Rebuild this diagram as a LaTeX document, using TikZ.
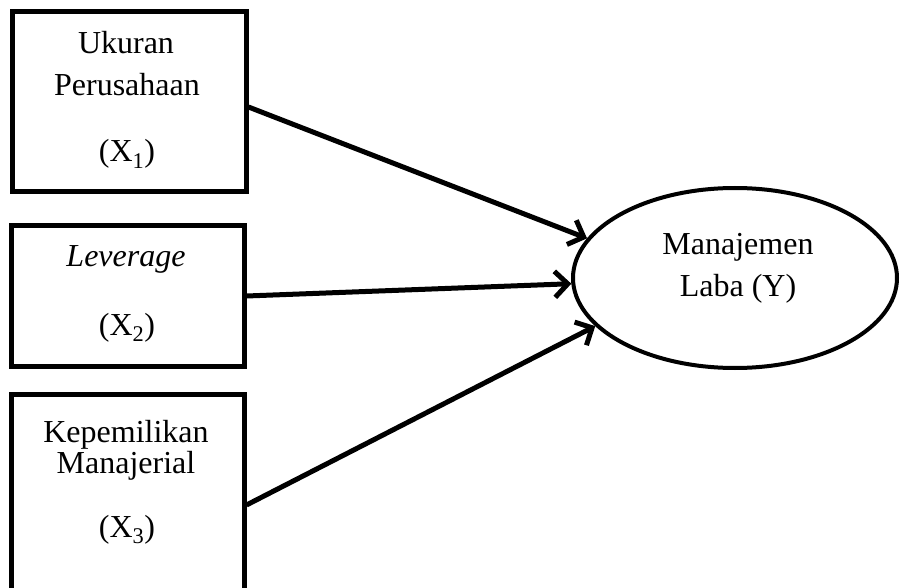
\documentclass[tikz,border=0pt]{standalone}
\usepackage{fontspec}
\setmainfont{Liberation Serif}
\usetikzlibrary{arrows.meta,shapes.geometric}
\begin{document}
\begin{tikzpicture}[x=1pt,y=-1pt,
  every node/.style={font=\fontsize{32}{38}\selectfont},
  boxnode/.style={draw,line width=5pt,inner sep=0pt,minimum width=#1},
  txt/.style={anchor=base,inner sep=0pt},
  conn/.style={line width=5pt,-{Straight Barb[length=13pt,width=26pt]}}]
\useasboundingbox (0,0) rectangle (900,588);
\clip (0,0) rectangle (900,588);
\node[boxnode=234pt,minimum height=180pt] (b1) at (129,102) {};
\node[boxnode=233pt,minimum height=140pt] (b2) at (127.5,296) {};
\node[boxnode=233pt,minimum height=240pt] (b3) at (127.5,514) {};
\node[draw,ellipse,line width=4pt,inner sep=0pt,minimum width=324pt,minimum height=180pt] (ell) at (735,278) {};
% texts
\node[txt] (t1a) at (126,54) {Ukuran};
\node[txt] (t1b) at (127,96) {Perusahaan};
\node[txt] (t1c) at (127,162) {(X\textsubscript{1})};
\node[txt] (t2a) at (126,267) {\textit{Leverage}};
\node[txt] (t2b) at (127,335) {(X\textsubscript{2})};
\node[txt] (t3a) at (126,442) {Kepemilikan};
\node[txt] (t3b) at (126,473) {Manajerial};
\node[txt] (t3c) at (127,537) {(X\textsubscript{3})};
\node[txt] (ya) at (738,255) {Manajemen};
\node[txt] (yb) at (738,297) {Laba (Y)};
% connectors
\draw[conn] ([yshift=-5pt]b1.east) -- (ell.165);
\draw[conn] (b2.east) -- (ell.182);
\draw[conn] ([yshift=9pt]b3.east) -- (ell.199);
\end{tikzpicture}
\end{document}
